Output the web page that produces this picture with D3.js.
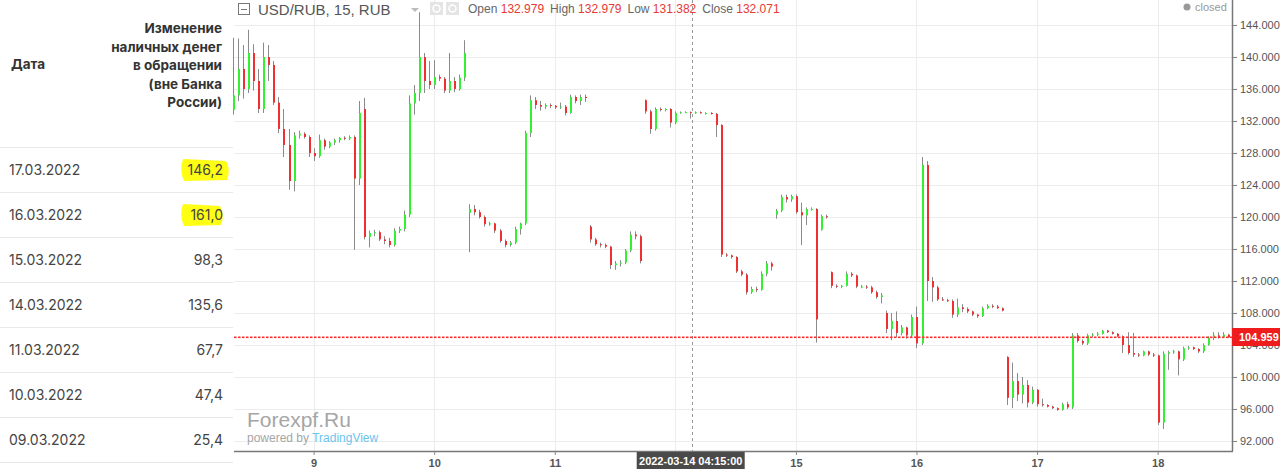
<!DOCTYPE html>
<html>
<head>
<meta charset="utf-8">
<script src="https://cdn.jsdelivr.net/npm/d3@7"></script>
<style>
  body { margin: 0; background: #fff; }
  svg { display: block; }
</style>
</head>
<body>
<svg id="chart" width="1280" height="469"></svg>
<script>
// TABLE DATA //
var headerLines = ["Изменение", "наличных денег", "в обращении", "(вне Банка", "России)"];
var tableDates = ["17.03.2022", "16.03.2022", "15.03.2022", "14.03.2022", "11.03.2022", "10.03.2022", "09.03.2022"];
var tableValues = ["146,2", "161,0", "98,3", "135,6", "67,7", "47,4", "25,4"];
var marked = ["146,2", "161,0"];

// CHART DATA //
// hour (trading time since 8 Mar 00:00, weekend removed), open, high, low, close
var candles = [
  [8, 133.4, 142.4, 132.8, 135.2], [9, 135.2, 142.3, 134.5, 138.5], [10, 138.5, 141.5, 134.8, 136],
  [11, 136, 143.4, 135.5, 140.5], [12, 140.5, 141.6, 135.8, 137], [13, 137, 138.5, 133, 133.5],
  [14, 133.5, 141.8, 133, 140], [15, 140, 141.5, 137, 139], [16, 139, 139.5, 134, 134.3],
  [17, 134.3, 135, 130.5, 131], [18, 131, 133.5, 127.5, 129], [19, 129, 131, 123.4, 124.5],
  [20, 124.5, 130.6, 123.2, 130.2], [21, 130.2, 130.8, 129.8, 130.4], [22, 130.4, 130.6, 129.8, 130],
  [23, 130, 130.2, 127.5, 128], [24, 128, 128.6, 127, 127.6], [25, 127.6, 130.3, 127.4, 129.6],
  [26, 129.6, 129.8, 128.4, 128.8], [27, 128.8, 129.5, 128.6, 129.3], [28, 129.3, 129.8, 129, 129.6],
  [29, 129.6, 130, 129.3, 129.9], [30, 129.9, 130.1, 129.6, 129.8], [31, 129.8, 130.2, 129.6, 130],
  [32, 130, 130.2, 115.9, 124.8], [33, 124.8, 134.5, 124, 133], [34, 133.5, 134.9, 117.2, 117.5],
  [35, 117.5, 118.3, 116.2, 118], [36, 118, 118.4, 117.6, 118.1], [37, 118.1, 118.3, 117, 117.2],
  [38, 117.2, 117.6, 116.6, 117], [39, 117, 117.4, 116.2, 116.5], [40, 116.5, 118.6, 116.3, 118.3],
  [41, 118.3, 118.8, 118, 118.5], [42, 118.5, 120.8, 118.2, 120.3], [43, 120.3, 135.2, 120, 134.2],
  [44, 134.2, 136.5, 132.8, 135.5], [45, 135.5, 145.6, 134.5, 140], [46, 140, 140.5, 135.5, 137],
  [47, 137, 139.5, 136, 136.5], [48, 136.5, 139.6, 136, 137.5], [49, 137.5, 137.8, 137, 137.3],
  [50, 137.3, 137.5, 135.5, 135.8], [51, 135.8, 140.5, 135.5, 137], [52, 137, 137.5, 135.6, 136],
  [53, 136, 137.8, 135.8, 137.4], [54, 137.4, 142.1, 137, 140.5],
  [55, 120.5, 121.6, 115.6, 121], [56, 121, 121.5, 120.2, 120.6], [57, 120.6, 120.9, 119.8, 120],
  [58, 120, 120.2, 118.8, 119.1], [59, 119.1, 119.4, 118.9, 119.2], [60, 119.2, 119.3, 118, 118.3],
  [61, 118.3, 118.5, 116.8, 117], [62, 117, 117.2, 116.2, 116.5], [63, 116.5, 117, 116.3, 116.8],
  [64, 116.8, 118.8, 116.6, 118.5], [65, 118.5, 119.3, 117.8, 119.2], [66, 119.2, 130.8, 119, 130.5],
  [67, 130.5, 135.2, 130, 134.6], [68, 134.6, 135, 133.5, 134], [69, 134, 134.5, 133.3, 133.8],
  [70, 133.8, 134.2, 133.5, 134], [71, 134, 134.2, 133.6, 133.9], [72, 133.9, 134, 133.5, 133.7],
  [73, 133.7, 134.3, 133.5, 133.8], [74, 133.8, 134, 132.7, 133], [75, 133, 135.3, 132.9, 135],
  [76, 135, 135.2, 134.2, 134.5], [77, 134.5, 135.3, 134, 135], [78, 135, 135.3, 134.4, 134.9],
  [79, 118.8, 119, 116.8, 117.2], [80, 117.2, 117.4, 116.4, 116.6], [81, 116.6, 116.8, 116.2, 116.5],
  [82, 116.5, 116.7, 116.1, 116.3], [83, 116.3, 116.4, 113.5, 114], [84, 114, 114.5, 113.4, 114.2],
  [85, 114.2, 114.6, 113.8, 114.3], [86, 114.3, 116, 114.1, 115.8], [87, 115.8, 118.2, 115.6, 117.8],
  [88, 117.8, 118.2, 117.2, 117.6], [89, 117.6, 117.8, 114.2, 114.5],
  [90, 134.6, 134.7, 132.9, 133.2], [91, 133.2, 133.4, 130.4, 131], [92, 131, 133.7, 130.8, 133.5],
  [93, 133.5, 133.7, 133.2, 133.4], [94, 133.4, 133.6, 133.2, 133.5], [95, 133.5, 133.6, 131.2, 131.8],
  [96, 131.8, 133.2, 131.6, 133], [97, 133, 133.2, 132.9, 133.1], [98, 133.1, 133.2, 133, 133.1],
  [99, 133.1, 133.2, 132.3, 133], [100, 133, 133.2, 132.9, 133.1], [101, 133.1, 133.2, 132.9, 133],
  [102, 133, 133.1, 132.8, 133], [103, 133, 133.1, 132.8, 132.9], [104, 132.9, 133, 130, 131.5],
  [105, 131.5, 131.6, 115, 115.3], [106, 115.3, 115.5, 115, 115.2], [107, 115.2, 115.3, 114.8, 115],
  [108, 115, 115.1, 113, 113.2], [109, 113.2, 113.4, 112.6, 112.8], [110, 112.8, 113, 110.3, 110.6],
  [111, 110.6, 111.3, 110.4, 111], [112, 111, 111.3, 110.6, 110.9], [113, 110.9, 113.2, 110.8, 112.9],
  [114, 112.9, 114.5, 112.6, 114.2], [115, 114.2, 114.4, 113.3, 113.8],
  [116, 120.3, 121, 119.8, 120.8], [117, 120.8, 122.8, 120.6, 122.5], [118, 122.5, 122.8, 121.8, 122.2],
  [119, 122.2, 122.8, 121.9, 122.6], [120, 122.6, 122.8, 120.4, 120.6], [121, 120.6, 121.8, 116.5, 120.2],
  [122, 120.2, 121.2, 119, 121], [123, 121, 121.2, 120.8, 121], [124, 121, 121.1, 104.3, 107.2],
  [125, 118.4, 120.3, 118.3, 120.1], [126, 120.1, 120.3, 119.8, 120],
  [127, 113.1, 113.2, 111.1, 111.4], [128, 111.4, 111.6, 111.1, 111.3], [129, 111.3, 111.5, 111.1, 111.4],
  [130, 111.4, 113.2, 111.3, 112.9], [131, 112.9, 113.1, 112.5, 112.7], [132, 112.7, 112.8, 111.1, 111.3],
  [133, 111.3, 111.5, 111.1, 111.3], [134, 111.3, 111.5, 111, 111.2], [135, 111.2, 111.4, 110.4, 110.6],
  [136, 110.6, 110.8, 109.8, 110], [137, 110, 110.5, 109.2, 110.2],
  [138, 108, 108.3, 105.5, 106], [139, 106, 108, 104.6, 107], [140, 107, 108.2, 105, 105.5],
  [141, 105.5, 106.5, 105.2, 106.2], [142, 106.2, 106.3, 104.8, 105.2], [143, 105.2, 107.8, 105, 107.5],
  [144, 107.5, 108.8, 103.6, 104.2], [145, 104.2, 127.5, 104, 126.5], [146, 126.5, 127, 109.5, 112],
  [147, 112, 112.5, 109.4, 111.2], [148, 111.2, 111.4, 109.5, 109.7], [149, 109.7, 110, 109.5, 109.6],
  [150, 109.6, 109.8, 109.4, 109.5], [151, 109.5, 109.7, 107.4, 107.8], [152, 107.8, 109.8, 107.5, 108.7],
  [153, 108.7, 109.1, 108.1, 108.5], [154, 108.5, 108.7, 108, 108.2], [155, 108.2, 108.3, 107.6, 107.8],
  [156, 107.8, 107.9, 107.4, 107.6], [157, 107.6, 108.8, 107.5, 108.6], [158, 108.6, 109.1, 108.5, 108.9],
  [159, 108.9, 109.1, 108.6, 108.8], [160, 108.8, 109, 108.5, 108.6], [161, 108.6, 108.7, 108.2, 108.3],
  [162, 102.5, 102.6, 96.5, 97.4], [163, 97.4, 101.8, 96.1, 99.5], [164, 99.5, 100.5, 97, 97.8],
  [165, 97.8, 100, 96.7, 99], [166, 99, 99.6, 96.2, 96.8], [167, 96.8, 98.8, 96.6, 98.4],
  [168, 98.4, 98.5, 96.3, 96.6], [169, 96.6, 97.3, 96.3, 96.5], [170, 96.5, 96.6, 96.2, 96.3],
  [171, 96.3, 96.4, 96, 96.1], [172, 96.1, 96.2, 95.8, 95.9], [173, 95.9, 96.8, 95.8, 96.6],
  [174, 96.6, 96.9, 96, 96.2], [175, 96.2, 105.5, 96, 105.2], [176, 105.2, 105.5, 104.3, 104.5],
  [177, 104.5, 104.7, 104, 104.2], [178, 104.2, 105.4, 104, 105.2], [179, 105.2, 105.5, 105, 105.3],
  [180, 105.3, 105.6, 105.1, 105.4], [181, 105.4, 105.9, 105.3, 105.8], [182, 105.8, 105.9, 105.5, 105.6],
  [183, 105.6, 105.7, 105.3, 105.4], [184, 105.4, 105.5, 105, 105.1], [185, 105.1, 105.2, 103, 104],
  [186, 104, 105.6, 102.8, 103], [187, 103, 105.5, 102.5, 102.8], [188, 102.8, 103, 102.5, 102.7],
  [189, 102.7, 103.3, 102.6, 103.2], [190, 103.2, 103.3, 102.6, 102.8], [191, 102.8, 103, 102.5, 102.7],
  [192, 102.7, 102.8, 94, 94.3], [193, 94.3, 103.2, 93.5, 102.9], [194, 102.9, 103.3, 100.9, 103.1],
  [195, 103.1, 103.4, 102.9, 103.2], [196, 103.2, 103.3, 100.2, 102.2], [197, 102.2, 103.8, 102, 103.6],
  [198, 103.6, 103.9, 103.4, 103.7], [199, 103.7, 103.8, 103.4, 103.5], [200, 103.5, 103.6, 103, 103.2],
  [201, 103.2, 104.2, 103, 104], [202, 104, 105.1, 103.9, 104.9], [203, 104.9, 105.6, 104.6, 105.2],
  [204, 105.2, 105.6, 104.8, 105], [205, 105, 105.6, 104.9, 105.3], [206, 105.3, 105.4, 104.9, 104.959]
];

var priceTicks = [92, 96, 100, 104, 108, 112, 116, 120, 124, 128, 132, 136, 140, 144];
var dayLabels = ["9", "10", "11", "14", "15", "16", "17", "18"];   // one per 24 trading hours
var lastPrice = 104.959;
var crossHour = 100.25;   // 2022-03-14 04:15
var legend = [["Open", "132.979"], ["High", "132.979"], ["Low", "131.382"], ["Close", "132.071"]];

var W = 1280, H = 469;
var svg = d3.select("#chart");
var tableFont = "Inter, 'Noto Sans', sans-serif";
var tvFont = "'Liberation Sans', Arial, sans-serif";

// TABLE //
var table = svg.append("g");
var rowTop = 147, rowH = 45;

table.append("text").attr("x", 11).attr("y", 69)
  .style("font", "bold 13.5px " + tableFont).style("fill", "#333").text("Дата");

table.selectAll(".hdr").data(headerLines).enter().append("text")
  .attr("x", 222).attr("y", (d, i) => 33 + i * 18.5)
  .attr("text-anchor", "end")
  .style("font", "bold 13.5px " + tableFont).style("fill", "#333")
  .text(d => d);

table.selectAll(".sep").data(d3.range(tableDates.length + 1)).enter().append("line")
  .attr("x1", 0).attr("x2", 233)
  .attr("y1", i => rowTop + i * rowH + 0.5).attr("y2", i => rowTop + i * rowH + 0.5)
  .style("stroke", "#e8e8e8");

// yellow marker under the two highlighted values
table.selectAll(".mark").data(tableValues).enter()
  .filter(d => marked.indexOf(d) >= 0)
  .append("path")
  .attr("d", function (d, i) {
    var cy = rowTop + i * rowH + 23;
    var x0 = 180, x1 = i == 0 ? 230 : 224;
    return "M" + (x0 + 3) + "," + (cy - 11) + "L" + (x1 - 4) + "," + (cy - 9) +
      "Q" + (x1 + 1) + "," + cy + " " + (x1 - 3) + "," + (cy + 10) +
      "L" + (x0 + 4) + "," + (cy + 11) + "Q" + (x0 - 1) + "," + cy + " " + (x0 + 3) + "," + (cy - 11) + "Z";
  })
  .style("fill", "#ffff14");

table.selectAll(".date").data(tableDates).enter().append("text")
  .attr("x", 9).attr("y", (d, i) => rowTop + i * rowH + 28)
  .style("font", "14px " + tableFont).style("fill", "#444")
  .text(d => d);

table.selectAll(".val").data(tableValues).enter().append("text")
  .attr("x", 223).attr("y", (d, i) => rowTop + i * rowH + 28)
  .attr("text-anchor", "end")
  .style("font", "14px " + tableFont).style("fill", "#444")
  .text(d => d);

// CHART //
var plotL = 234, plotR = 1232, plotB = 451;
var x = d3.scaleLinear().domain([8.15, 206.8]).range([plotL, plotR]);
var y = d3.scaleLinear().domain([92, 144]).range([441, 25]);

var chart = svg.append("g");

chart.append("rect").attr("x", plotL).attr("y", 0).attr("width", W - plotL).attr("height", H)
  .style("fill", "#fff");

// grid
chart.selectAll(".hgrid").data(priceTicks).enter().append("line")
  .attr("x1", plotL).attr("x2", plotR)
  .attr("y1", d => Math.round(y(d)) + 0.5).attr("y2", d => Math.round(y(d)) + 0.5)
  .style("stroke", "#ececec");

var dayTicks = dayLabels.map((d, i) => ({ label: d, hour: (i + 1) * 24 }));
chart.selectAll(".vgrid").data(dayTicks).enter().append("line")
  .attr("x1", d => Math.round(x(d.hour)) + 0.5).attr("x2", d => Math.round(x(d.hour)) + 0.5)
  .attr("y1", 0).attr("y2", plotB)
  .style("stroke", "#ececec");

// watermark
chart.append("text").attr("x", 247).attr("y", 427)
  .style("font", "21px " + tvFont).style("fill", "#a6a6a6").text("Forexpf.Ru");
var pw = chart.append("text").attr("x", 247).attr("y", 442)
  .style("font", "12px " + tvFont);
pw.append("tspan").style("fill", "#a6a6a6").text("powered by ");
pw.append("tspan").style("fill", "#6cc3ef").text("TradingView");

// crosshair
chart.append("line")
  .attr("x1", Math.round(x(crossHour)) - 4.5).attr("x2", Math.round(x(crossHour)) - 4.5)
  .attr("y1", 0).attr("y2", plotB)
  .style("stroke", "#999").style("stroke-dasharray", "3,3");

// candles
var bars = chart.append("g").selectAll(".bar").data(candles).enter().append("g");
bars.append("line")
  .attr("x1", d => Math.round(x(d[0])) + 0.5).attr("x2", d => Math.round(x(d[0])) + 0.5)
  .attr("y1", d => y(d[2])).attr("y2", d => y(d[3]))
  .style("stroke", "#8a8a8a");
bars.append("rect")
  .attr("x", d => Math.round(x(d[0])))
  .attr("y", d => y(Math.max(d[1], d[4])))
  .attr("width", 2)
  .attr("height", d => Math.max(1, Math.abs(y(d[1]) - y(d[4]))))
  .style("fill", d => d[4] >= d[1] ? "#33f033" : "#f03030");

// last price line, drawn as short red dashes
var ly = Math.round(y(lastPrice));
chart.append("g").selectAll("rect").data(d3.range(plotL, plotR, 4)).enter().append("rect")
  .attr("x", d => d).attr("y", ly - 0.5).attr("width", 2.5).attr("height", 1.6)
  .style("fill", "#ff2a2a");

// price axis
chart.append("line").attr("x1", plotR + 0.5).attr("x2", plotR + 0.5).attr("y1", 0).attr("y2", plotB)
  .style("stroke", "#777").style("stroke-width", 1.5);
var yAxis = chart.append("g").attr("transform", "translate(" + (plotR + 1) + ",0)")
  .call(d3.axisRight(y).tickValues(priceTicks).tickSize(4).tickFormat(d3.format(".3f")));
yAxis.select(".domain").remove();
yAxis.selectAll("line").style("stroke", "#888");
yAxis.selectAll("text").attr("x", 7).style("font", "11px " + tvFont).style("fill", "#555");

// last price label
chart.append("rect").attr("x", plotR).attr("y", ly - 9).attr("width", W - plotR).attr("height", 18)
  .style("fill", "#ee1c1c");
chart.append("text").attr("x", plotR + 7).attr("y", ly + 4)
  .style("font", "bold 11px " + tvFont).style("fill", "#fff").text(lastPrice.toFixed(3));

// time axis
chart.append("line").attr("x1", plotL).attr("x2", plotR + 1).attr("y1", plotB + 0.5).attr("y2", plotB + 0.5)
  .style("stroke", "#777").style("stroke-width", 1.5);
var xAxis = chart.append("g").attr("transform", "translate(0," + (plotB + 1) + ")")
  .call(d3.axisBottom(x).tickValues(dayTicks.map(d => d.hour)).tickSize(3)
    .tickFormat((d, i) => dayTicks[i].label));
xAxis.select(".domain").remove();
xAxis.selectAll("line").style("stroke", "#888");
xAxis.selectAll("text").attr("y", 7).style("font", "bold 11px " + tvFont).style("fill", "#555");

// crosshair time label
var cx = x(crossHour) - 5;
chart.append("rect").attr("x", cx - 55).attr("y", plotB + 1).attr("width", 108).attr("height", 18)
  .style("fill", "#4a4a4a");
chart.append("text").attr("x", cx - 1).attr("y", plotB + 14).attr("text-anchor", "middle")
  .style("font", "bold 11px " + tvFont).style("fill", "#fff").text("2022-03-14 04:15:00");

// header legend
var head = chart.append("g");
head.append("rect").attr("x", 238.5).attr("y", 3.5).attr("width", 11).attr("height", 11)
  .style("fill", "none").style("stroke", "#777");
head.append("line").attr("x1", 241).attr("x2", 247).attr("y1", 9.5).attr("y2", 9.5).style("stroke", "#777");
head.append("text").attr("x", 258).attr("y", 15)
  .style("font", "15px " + tvFont).style("fill", "#555").text("USD/RUB, 15, RUB");
head.append("path").attr("d", "M411,8L419,8L415,12Z").style("fill", "#bbb");
[430, 446].forEach(function (bx) {
  head.append("rect").attr("x", bx).attr("y", 2).attr("width", 13).attr("height", 13).style("fill", "#e4e4e4");
  head.append("circle").attr("cx", bx + 6.5).attr("cy", 8.5).attr("r", 3.5)
    .style("fill", "none").style("stroke", "#fff").style("stroke-width", 1.5);
});
var ohlc = head.append("text").attr("x", 468).attr("y", 13).style("font", "12px " + tvFont);
legend.forEach(function (p, i) {
  ohlc.append("tspan").attr("dx", i ? 6 : 0).style("fill", "#666").text(p[0] + " ");
  ohlc.append("tspan").style("fill", "#e53935").text(p[1]);
});

head.append("circle").attr("cx", 1187).attr("cy", 7).attr("r", 3.5).style("fill", "#999");
head.append("text").attr("x", 1195).attr("y", 11)
  .style("font", "11px " + tvFont).style("fill", "#999").text("closed");
</script>
</body>
</html>
